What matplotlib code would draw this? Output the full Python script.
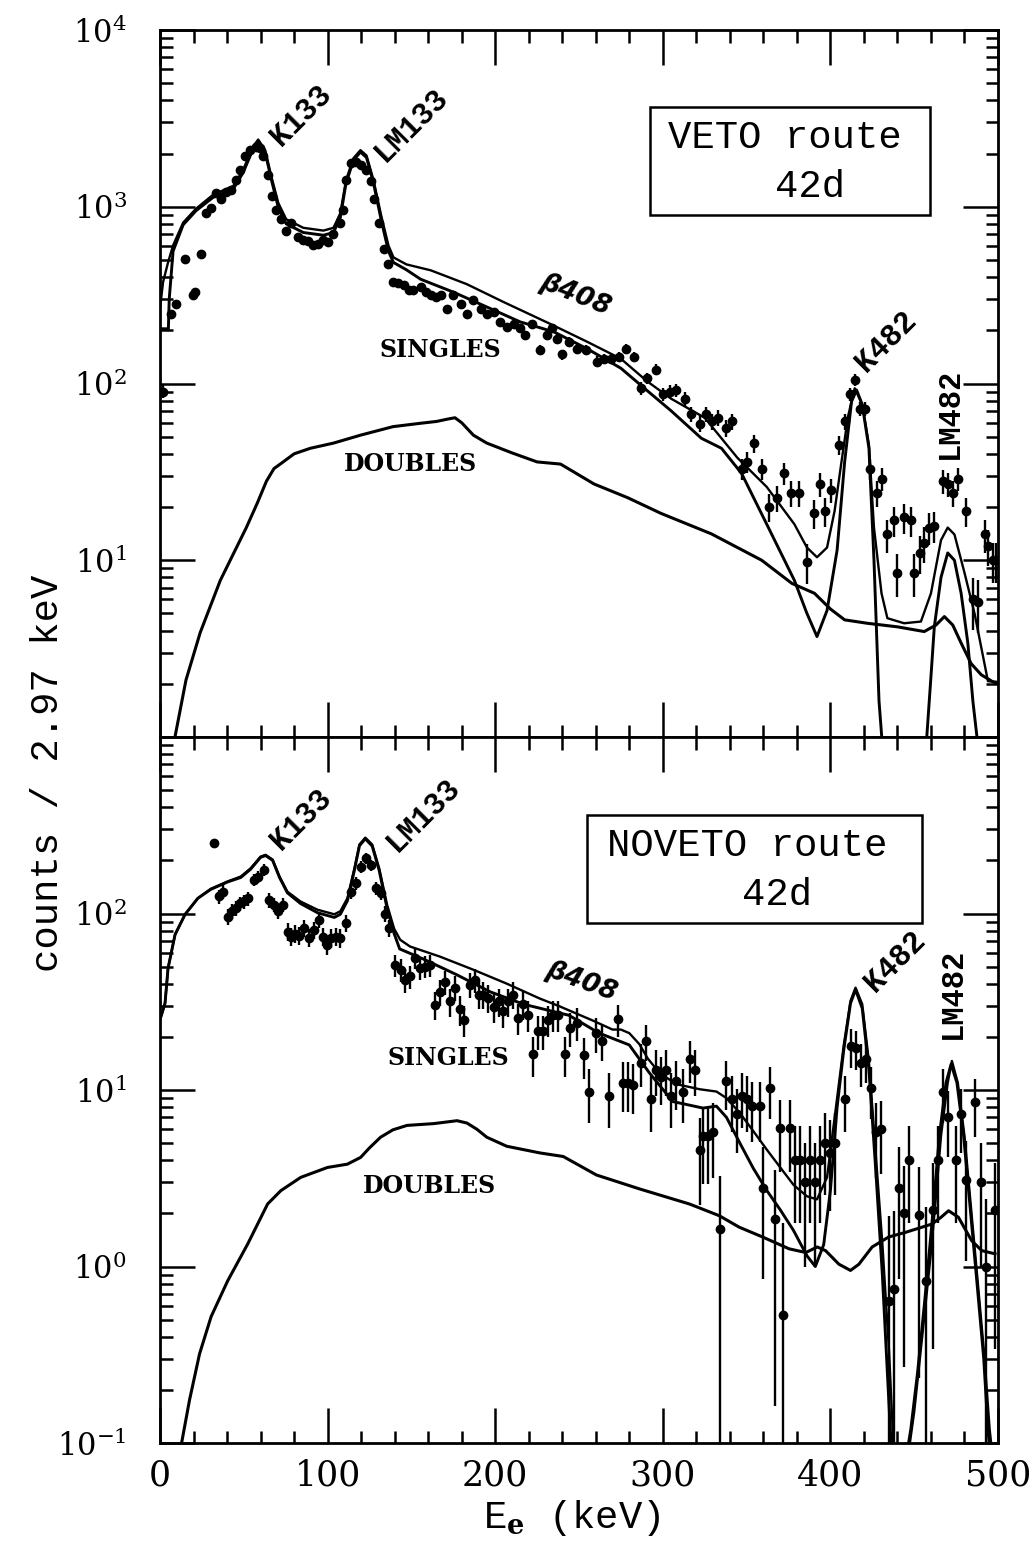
import numpy as np
import matplotlib
matplotlib.use('Agg')
import matplotlib.pyplot as plt
from matplotlib.ticker import MultipleLocator, LogLocator, NullFormatter
from matplotlib.patches import Rectangle

plt.rcParams['font.family'] = 'DejaVu Serif'
plt.rcParams['mathtext.fontset'] = 'dejavuserif'

# ---------------- VETO route (top panel) ----------------
top_total_e = [0, 1.8, 4.8, 7.8, 13.8, 21.5, 31.7, 43.7, 49.6, 55.6, 58.6, 62.8, 66.4, 70.6,
               75.3, 85.5, 97.5, 103.5, 107.6, 111, 115.4, 119.6, 123.2, 127.4, 132, 136.3,
               139.3, 147, 161.5, 183, 205, 233, 255, 275, 290.6, 305, 325, 344.5, 362, 378.5,
               386, 392, 398, 402.5, 406.6, 410.5, 414.5, 419, 423, 426, 430.5, 434, 444, 454,
               460, 466, 470, 474, 480, 486, 494, 500]
top_total_n = [265, 374, 484, 604, 813, 975, 1170, 1310, 1620, 2200, 2400, 2090, 1490, 1050,
               850, 760, 733, 760, 920, 1415, 1880, 2090, 1950, 1415, 890, 604,
               517, 472, 437, 365, 289, 217, 172, 138, 103, 82, 64, 38, 26, 16,
               11.8, 10.4, 11.8, 19, 36, 65, 94, 76, 45, 15.3, 6.5, 4.7, 4.4, 4.5,
               6.5, 13, 15.3, 14, 8.5, 5, 2.07, 2.05]

top_single_e = [0, 5, 5.5, 7.8, 13.8, 21.5, 31.7, 43.7, 49.6, 55.6, 58.6, 62.8, 66.4, 70.6,
                75.3, 85.5, 97.5, 103.5, 107.6, 111, 115.4, 119.6, 123.2, 127.4, 132, 136.3,
                139.3, 147, 155.5, 175, 195, 215, 235, 255, 275, 289, 305, 323, 335, 347,
                362, 378.5, 386, 392, 398, 404, 408.5, 412.6, 415.6, 419, 423, 426, 429,
                431, 433, 455, 457.5, 460, 462, 466, 470, 474, 478, 482, 485, 488, 490]
top_single_n = [204, 204, 300, 560, 790, 950, 1130, 1260, 1560, 2130, 2330, 2020, 1430, 990,
                800, 715, 690, 715, 870, 1360, 1830, 2040, 1900, 1360, 840, 560,
                484, 440, 389, 329, 271, 223, 196, 157, 122, 94, 70, 49, 43, 31,
                16, 7.7, 5.0, 3.7, 5.2, 11.4, 36, 79, 92, 76, 43, 10, 1.6,
                0.9, 0.4, 0.4, 1.0, 2.2, 4.2, 8, 11, 10, 6.5, 3.4, 1.6, 0.9, 0.4]

top_double_e = [8, 15.5, 24, 36, 51.5, 58, 63.5, 68, 73.5, 80, 89.7, 103.5, 119.6, 139, 155,
                165, 172, 176, 180, 187, 195, 210, 225, 239, 259, 279, 299, 329, 359, 377,
                390.5, 400, 408.5, 422, 440, 456, 463, 468, 473, 478, 484, 490, 497, 500]
top_double_n = [0.9, 2.1, 3.9, 7.7, 15.3, 21, 28, 33, 36, 40, 43, 46, 51, 57, 59.5,
                61, 63, 64, 60, 51, 46, 40.5, 36, 35, 27, 22.6, 18.4, 14.1, 10, 7.4,
                6.5, 5.3, 4.6, 4.4, 4.2, 3.95, 4.3, 4.8, 4.3, 3.4, 2.6, 2.25, 2.05, 2.0]

top_data_e = [2, 6.6, 9.6, 15, 19.7, 21, 24.5, 27.5, 30.5, 33.5, 36.5, 39.5, 42.5, 45.5, 47.8,
              50.8, 53.8, 57, 59.8, 61.6, 64.6, 67, 69.4, 72.4, 75.3, 78.3, 82.5, 85.5, 88.5,
              91.5, 94.5, 97.5, 100.5, 103.5, 107.6, 109.4, 111.2, 114.2, 117, 120.2, 123.2,
              125.6, 127.4, 130.4, 133.4, 136.3, 139.3, 142.3, 145.3, 148.3, 151, 155.5, 158.5,
              161.5, 164.5, 167.5, 171, 175, 179.4, 183, 187, 191.4, 195.4, 199, 203, 207,
              211, 215, 218, 222, 227, 231, 234, 237, 240, 244, 249, 254, 261, 265, 269, 274,
              278, 283, 287, 290.6, 296, 300, 304, 308, 313, 317, 322, 326, 329.5, 333, 338,
              341.5, 347, 350, 354.6, 359.4, 363.6, 368, 372.6, 376.7, 381, 386, 390.5, 393.5,
              397, 400.6, 405.4, 408.5, 411.4, 414.4, 417.4, 420.4, 423.4, 428, 431, 434, 438,
              440, 444, 448, 450, 453.4, 456, 459, 462, 467, 470, 473, 476, 481, 485, 488,
              492, 494, 497, 499]
top_data_n = [90, 247, 281, 503, 316, 330, 537, 925, 990, 1200, 1100, 1210, 1250, 1415, 1620,
              1935, 2090, 2170, 2150, 1935, 1515, 1150, 960, 850, 733, 810, 670, 650, 640,
              604, 615, 650, 630, 697, 810, 960, 1415, 1766, 1800, 1720, 1620,
              1400, 1100, 810, 573, 472, 374, 368, 360, 337, 337, 350, 330,
              316, 310, 316, 264, 316, 281, 247, 297, 264, 247, 254, 223, 209,
              218, 206, 188, 217, 155, 188, 205, 179, 146, 172, 157, 155, 133, 138, 138, 142,
              157, 142, 94, 107, 120, 87, 90, 92, 82, 67, 59, 67, 61, 64, 56,
              61, 33, 36, 46, 33, 20, 22.5, 31, 24, 24, 9.8, 18.4, 27,
              19, 25, 45, 61, 87, 105, 72, 72, 33, 24, 29, 14, 16.8,
              8.5, 17.5, 16.8, 8.5, 11, 12.5, 15.3, 15.7, 28, 27, 24, 29, 19, 6, 5.8,
              14, 12, 10, 10]

# ---------------- NOVETO route (bottom panel) ----------------
bot_total_e = [0, 3, 4.8, 9, 15, 22.6, 30.3, 40.4, 48.2, 54, 60, 63, 67.2, 71.3, 76, 83.8,
               94, 104, 107.6, 111.8, 116, 119, 122.5, 126.6, 130.8, 135.5, 139.7, 143.3,
               149.2, 167, 187, 207, 226.5, 238, 258, 270, 275, 280, 286, 291, 298, 308,
               322, 332, 338, 346, 354, 362, 370, 378, 386, 392, 398, 404, 408, 412, 415,
               419, 423, 427, 431, 435, 438, 446, 450, 455, 460, 463, 466, 470, 472.5, 476,
               480, 484, 488, 492, 495, 497]
bot_total_n = [25, 31, 49, 76, 99, 122, 138, 152, 162, 180, 210, 215, 202, 162, 133, 117,
               105, 99, 103, 122, 180, 246, 269, 246, 180, 112, 82, 71,
               65, 57, 48, 40, 33, 29.9, 24.8, 22, 22, 21, 18.2, 15.1, 12.5, 10.8,
               10.1, 9.8, 9.0, 7.4, 5.85, 4.6, 3.65, 2.9, 2.5, 2.4, 3.2, 9, 18, 32, 38,
               30.6, 14.4, 4.4, 1.35, 0.33, 0.08, 0.08, 0.15, 0.42, 1.2, 2.5, 5.5, 11, 14.6, 11,
               5.5, 2.1, 0.8, 0.3, 0.12, 0.08]

bot_single_e = [0, 3, 4.8, 9, 15, 22.6, 30.3, 40.4, 48.2, 54, 60, 63, 67.2, 71.3, 76, 83.8,
                94, 104, 107.6, 111.8, 116, 119, 122.5, 126.6, 130.8, 135.5, 139.7, 143,
                157.5, 177, 197, 217, 244, 262, 280, 292, 306, 324, 332, 338, 346, 354, 362,
                370, 378, 386, 391, 396, 400, 404, 408, 412, 415, 419, 423, 427, 431, 434,
                437, 444, 448, 452, 456, 459, 462, 465, 469, 472, 475.5, 479.5, 483.5, 487.5,
                491.5, 494, 496]
bot_single_n = [25, 31, 49, 76, 99, 122, 137, 151, 160, 178, 208, 213, 200, 160, 131, 114,
                101, 95, 99, 118, 176, 242, 265, 241, 175, 107, 77, 63,
                55, 45, 36, 30.6, 26.5, 21, 18, 12.5, 8.6, 7.9, 8.1, 7.0, 5.0, 3.6, 2.7,
                2.1, 1.6, 1.15, 1.0, 1.33, 2.7, 8, 17, 31, 37, 29, 13, 3.6, 0.9, 0.25,
                0.07, 0.07, 0.12, 0.25, 0.6, 1.2, 2.5, 5.5, 11, 14, 11, 5.5, 2.1, 0.8,
                0.3, 0.12, 0.07]

bot_double_e = [12, 17.6, 23.6, 30.5, 40.4, 52.3, 64.2, 72.1, 84, 99.9, 111.8, 119.7, 125,
                131.6, 139, 147.4, 163.3, 177.2, 183.1, 189, 195, 206.9, 226.7, 240.6, 260.4,
                286.2, 315.9, 333.7, 345.6, 359.5, 375.3, 385.3, 392.2, 397.1, 405.1, 412,
                417, 424.9, 434.8, 444.7, 460.6, 466, 470.5, 476.4, 484.3, 490.3, 498.2]
bot_double_n = [0.09, 0.175, 0.32, 0.52, 0.83, 1.34, 2.26, 2.69, 3.2, 3.64, 3.8, 4.15, 4.7,
                5.4, 5.95, 6.3, 6.45, 6.7, 6.5, 6.0, 5.4, 4.8, 4.4, 4.2, 3.3,
                2.75, 2.26, 1.94, 1.67, 1.47, 1.26, 1.2, 1.29, 1.23, 1.03, 0.95,
                1.03, 1.29, 1.47, 1.56, 1.74, 1.9, 2.07, 1.9, 1.4, 1.23, 1.18]

bot_data_e = [32.5, 35.5, 37.5, 40.4, 42.8, 45.4, 48, 50.3, 52.3, 56.3, 58.3, 61.8, 65.2, 67.8,
              70.2, 73.1, 76.1, 78.1, 80.5, 83, 86, 89, 92, 95, 97.3, 99.9, 102.3, 104.8,
              107.4, 110.8, 113.7, 116.7, 119.7, 122.7, 125.6, 128.6, 131.6, 134.5, 136.5,
              140.5, 143.5, 146.4, 149.4, 152.4, 155.4, 158.3, 161.3, 164.3, 167.3, 170.2,
              173.2, 176.2, 179.1, 181.1, 185.1, 188.1, 190.1, 193, 196, 199, 202, 204.9,
              207.9, 210.9, 213.8, 216.8, 219.8, 222.7, 225.7, 228.7, 231.7, 234.6, 237.6,
              241.6, 244.5, 249, 253, 256, 260, 264, 268, 273, 276, 279, 282, 287, 290,
              293, 296, 299, 302, 305, 308, 312, 316, 319, 322, 324, 327, 330, 334, 338,
              341, 344, 347, 350, 353, 358, 360, 364, 367, 370, 372, 376, 379, 382, 385,
              388, 391, 394, 397, 400, 403, 409, 412, 415, 418, 421, 424, 427, 430, 435,
              438, 441, 444, 447, 453, 457, 461, 464, 467, 470, 475, 478, 481, 486, 490,
              493, 498]
bot_data_n = [250, 125, 133, 96, 103, 107, 114, 117, 122, 155, 162, 177, 119, 112,
              103, 112, 79, 74, 77, 75, 83, 73, 81, 92, 74, 66.5, 72.6, 74,
              72.6, 88, 133, 148, 184, 205, 188, 139, 130, 100, 83,
              51, 48, 42, 44, 56, 49, 50, 51, 30.5, 36, 41,
              31.8, 38, 28.6, 25, 39.5, 42, 34.7, 34.7, 33.3, 29.5, 31.8, 27.9,
              31.8, 34.7, 25.6, 30.6, 26.7, 15.9, 21.5, 21.5, 25, 26.5, 26.7,
              15.9, 22.4, 24, 15.7, 9.8, 21, 19, 9.3, 25.2, 11, 11, 10.7, 14.3, 19,
              8.9, 13, 11.8, 13, 9.3, 11.2, 9.8, 15, 13, 4.6, 5.5, 5.5, 5.8, 1.64, 11.2,
              8.9, 7.3, 9.3, 8.9, 8.1, 8.1, 2.8, 10.2, 1.85, 6.1, 0.53, 6.1, 4.0, 4.0, 3.0,
              4.0, 3.0, 4.0, 5.0, 4.4, 5.0, 8.9, 17.7, 17.3, 14.3, 15, 10.2, 5.8, 6, 0.64,
              0.75, 2.8, 2.0, 4.0, 1.95, 0.83, 2.1, 4.0, 9.8, 7.0, 4.0, 7.3, 3.1, 8.5, 3.0,
              1.0, 2.1]

# ---------------- layout ----------------
fig = plt.figure(figsize=(10.32, 15.51), dpi=100)
L, W = 160 / 1032, 838 / 1032
ax_top = fig.add_axes([L, 1 - 737 / 1551, W, 707 / 1551])
ax_bot = fig.add_axes([L, 1 - 1443 / 1551, W, 706 / 1551])


def frame(ax, lo_exp, hi_exp, shown):
    ax.set_xlim(0, 500)
    ax.set_yscale('log', nonpositive='clip')
    ax.set_ylim(10.0 ** lo_exp, 10.0 ** hi_exp)
    ax.xaxis.set_major_locator(MultipleLocator(100))
    ax.xaxis.set_minor_locator(MultipleLocator(20))
    exps = list(range(lo_exp, hi_exp + 1))
    ax.set_yticks([10.0 ** k for k in exps],
                  labels=[r'$10^{%d}$' % k if k in shown else '' for k in exps])
    ax.yaxis.set_minor_locator(LogLocator(base=10, subs=np.arange(2, 10), numticks=50))
    ax.yaxis.set_minor_formatter(NullFormatter())
    ax.tick_params(which='both', direction='in', top=True, right=True, width=1.8)
    ax.tick_params(which='major', length=25)
    ax.tick_params(which='minor', length=9)
    ax.tick_params(axis='y', which='major', labelsize=22, pad=24)
    ax.tick_params(axis='x', which='major', labelsize=25, pad=11)
    for sp in ax.spines.values():
        sp.set_linewidth(2.0)


def draw(ax, total, single, double, data, err_floor):
    ax.plot(*total, color='black', lw=1.7)
    ax.plot(*single, color='black', lw=2.1)
    ax.plot(*double, color='black', lw=2.2)
    e = np.array(data[0])
    n = np.array(data[1])
    # Poisson-like uncertainty on the counts
    err = np.sqrt(n + err_floor) * (0.8 if err_floor == 0 else 1.0)
    lower = np.minimum(err, 0.999 * n)
    ax.errorbar(e, n, yerr=[lower, err], fmt='o', ms=6, color='black',
                elinewidth=1.7, capsize=0)


frame(ax_top, 0, 4, [1, 2, 3, 4])
frame(ax_bot, -1, 3, [-1, 0, 1, 2])
ax_top.tick_params(axis='x', labelbottom=False)

draw(ax_top, (top_total_e, top_total_n), (top_single_e, top_single_n),
     (top_double_e, top_double_n), (top_data_e, top_data_n), 0)
draw(ax_bot, (bot_total_e, bot_total_n), (bot_single_e, bot_single_n),
     (bot_double_e, bot_double_n), (bot_data_e, bot_data_n), 1.0)

mono = 'Liberation Mono'
peak_kw = dict(family=mono, fontsize=22, fontweight='bold', ha='center', va='center')
word_kw = dict(fontsize=17, fontweight='bold', ha='center', va='center')
beta_kw = dict(family='DejaVu Sans', style='italic', fontweight='bold', fontsize=19,
               ha='center', va='center')

# top panel labels
ax_top.text(84, 3290, 'K133', rotation=45, **peak_kw)
ax_top.text(150, 2890, 'LM133', rotation=45, **peak_kw)
ax_top.text(433, 172, 'K482', rotation=45, **peak_kw)
ax_top.text(471, 68, 'LM482', rotation=90, **peak_kw)
ax_top.text(248, 316, 'β408', rotation=-22, **beta_kw)
ax_top.text(167.5, 155, 'SINGLES', **word_kw)
ax_top.text(149.5, 35, 'DOUBLES', **word_kw)
ax_top.add_patch(Rectangle((0.585, 0.738), 0.334, 0.153, transform=ax_top.transAxes,
                           fill=False, lw=1.8, color='black'))
ax_top.text(0.606, 0.847, 'VETO route', transform=ax_top.transAxes, family=mono,
            fontsize=28, ha='left', va='center')
ax_top.text(0.734, 0.778, '42d', transform=ax_top.transAxes, family=mono,
            fontsize=28, ha='left', va='center')

# bottom panel labels
ax_bot.text(84.4, 340, 'K133', rotation=45, **peak_kw)
ax_bot.text(157.5, 363, 'LM133', rotation=45, **peak_kw)
ax_bot.text(438.7, 53.7, 'K482', rotation=45, **peak_kw)
ax_bot.text(473, 35.4, 'LM482', rotation=90, **peak_kw)
ax_bot.text(251.5, 41, 'β408', rotation=-20, **beta_kw)
ax_bot.text(171.8, 15.2, 'SINGLES', **word_kw)
ax_bot.text(161, 2.86, 'DOUBLES', **word_kw)
ax_bot.add_patch(Rectangle((0.510, 0.737), 0.399, 0.153, transform=ax_bot.transAxes,
                           fill=False, lw=1.8, color='black'))
ax_bot.text(0.533, 0.846, 'NOVETO route', transform=ax_bot.transAxes, family=mono,
            fontsize=28, ha='left', va='center')
ax_bot.text(0.695, 0.776, '42d', transform=ax_bot.transAxes, family=mono,
            fontsize=28, ha='left', va='center')

fig.text(48 / 1032, 1 - 773 / 1551, 'counts / 2.97 keV', rotation=90, family=mono,
         fontsize=28, ha='center', va='center')
fig.text(572 / 1032, 1 - 1518 / 1551, r'E$_\mathbf{e}$ (keV)', family=mono,
         fontsize=28, ha='center', va='center')

fig.savefig('out.png', dpi=100)
